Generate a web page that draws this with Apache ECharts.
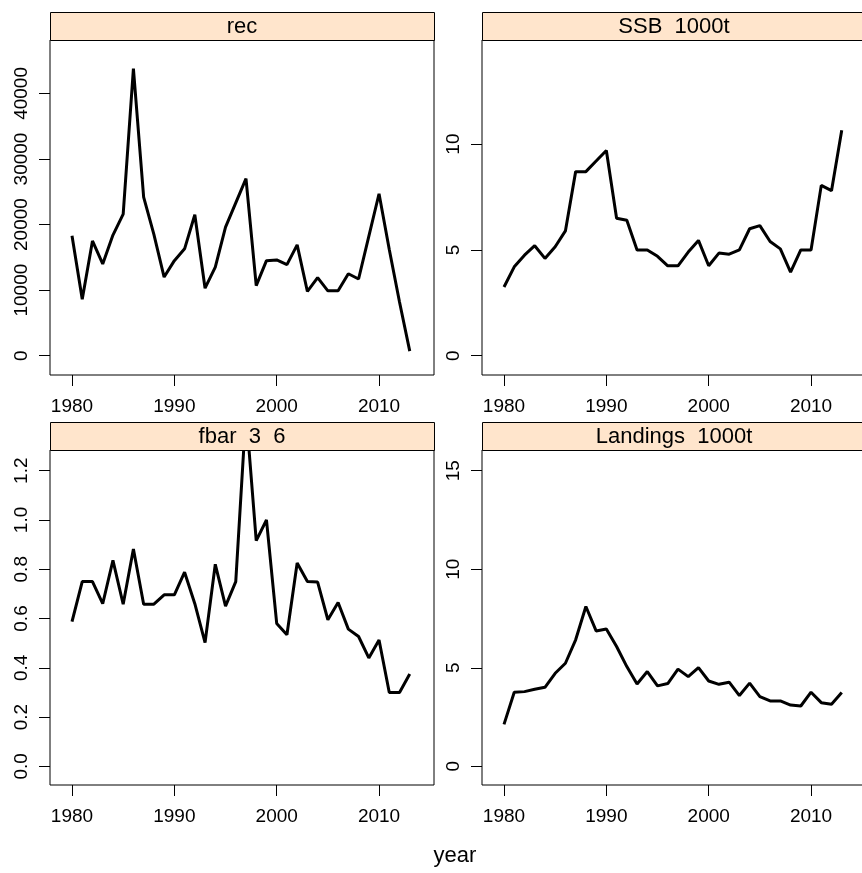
<!DOCTYPE html>
<html>
<head>
<meta charset="utf-8">
<style>
  html, body { margin: 0; padding: 0; background: #fff; }
  #chart { width: 862px; height: 873px; }
</style>
<script src="https://cdn.jsdelivr.net/npm/echarts@6/dist/echarts.min.js"></script>
</head>
<body>
<div id="chart"></div>
<script>
// ---- data ----
const years = [1980,1981,1982,1983,1984,1985,1986,1987,1988,1989,1990,1991,1992,1993,1994,1995,1996,1997,1998,1999,2000,2001,2002,2003,2004,2005,2006,2007,2008,2009,2010,2011,2012,2013];
const rec = [18300,8600,17500,14000,18400,21600,43800,24200,18500,12000,14500,16300,21500,10300,13500,19600,23300,27000,10700,14500,14600,13900,16900,9800,11900,9900,9900,12500,11700,18200,24700,16200,8200,700];
const ssb = [3.25,4.2,4.75,5.2,4.6,5.15,5.9,8.7,8.7,9.2,9.7,6.5,6.4,5.0,5.0,4.7,4.25,4.25,4.9,5.45,4.25,4.85,4.8,5.0,6.0,6.15,5.4,5.05,3.95,5.0,5.0,8.05,7.8,10.65];
const fbar = [0.587,0.75,0.75,0.66,0.836,0.658,0.882,0.658,0.658,0.696,0.696,0.788,0.66,0.502,0.82,0.65,0.75,1.44,0.916,1.0,0.58,0.534,0.825,0.75,0.748,0.595,0.665,0.557,0.527,0.44,0.513,0.30,0.30,0.375];
const landings = [2.13,3.76,3.79,3.91,4.01,4.72,5.23,6.42,8.11,6.87,6.97,6.08,5.06,4.18,4.81,4.08,4.2,4.93,4.55,5.01,4.33,4.16,4.27,3.59,4.22,3.54,3.32,3.32,3.11,3.06,3.76,3.23,3.15,3.74];

const panelTitles = ['rec', 'SSB  1000t', 'fbar  3  6', 'Landings  1000t'];
const xTicks = [1980, 1990, 2000, 2010];
const recTicks = [0, 10000, 20000, 30000, 40000];
const ssbTicks = [0, 5, 10];
const fbarTicks = [0, 0.2, 0.4, 0.6, 0.8, 1.0, 1.2];
const landTicks = [0, 5, 10, 15];
const xAxisTitle = 'year';

// ---- layout / style ----
const FONT = "'Liberation Sans', Arial, sans-serif";
const panels = [
  { left: 50,  top: 40,  values: rec,      ticks: recTicks,  ymin: -2940, ymax: 48150, fmt: v => String(v) },
  { left: 482, top: 40,  values: ssb,      ticks: ssbTicks,  ymin: -0.91, ymax: 14.92, fmt: v => String(v) },
  { left: 50,  top: 450, values: fbar,     ticks: fbarTicks, ymin: -0.0758, ymax: 1.284, fmt: v => v.toFixed(1) },
  { left: 482, top: 450, values: landings, ticks: landTicks, ymin: -0.948, ymax: 16.05, fmt: v => String(v) }
];
const PW = 384, PH = 335, STRIP = 28;

const grid = [], xAxis = [], yAxis = [], series = [], graphic = [];
panels.forEach((p, i) => {
  grid.push({
    left: p.left, top: p.top, width: PW, height: PH,
    show: true, borderColor: '#000', borderWidth: 1, backgroundColor: 'transparent',
    outerBoundsMode: 'none', containLabel: false
  });
  xAxis.push({
    type: 'value', gridIndex: i, min: 1977.85, max: 2015.37, position: 'bottom',
    splitLine: { show: false },
    axisLine: { show: false, onZero: false },
    axisTick: { show: true, inside: false, length: 11, lineStyle: { color: '#000', width: 1 }, customValues: xTicks },
    axisLabel: { show: true, fontSize: 19, color: '#000', fontFamily: FONT, margin: 22, customValues: xTicks,
      formatter: v => String(v) }
  });
  yAxis.push({
    type: 'value', gridIndex: i, min: p.ymin, max: p.ymax, position: 'left',
    splitLine: { show: false },
    axisLine: { show: false, onZero: false },
    axisTick: { show: true, inside: false, length: 11, lineStyle: { color: '#000', width: 1 }, customValues: p.ticks },
    axisLabel: { show: true, fontSize: 19, color: '#000', fontFamily: FONT, margin: 19, rotate: 90,
      customValues: p.ticks, formatter: p.fmt }
  });
  series.push({
    type: 'line', xAxisIndex: i, yAxisIndex: i,
    data: years.map((y, k) => [y, p.values[k]]),
    showSymbol: false, symbol: 'none', clip: true, silent: true,
    lineStyle: { color: '#000', width: 3 },
    animation: false
  });
  graphic.push({
    type: 'rect', z: 10,
    shape: { x: p.left + 0.5, y: p.top - STRIP + 0.5, width: PW, height: STRIP },
    style: { fill: '#ffe5cc', stroke: '#000', lineWidth: 1 }
  });
  graphic.push({
    type: 'text', z: 11,
    x: p.left + PW / 2, y: p.top - STRIP / 2 + 1,
    style: { text: panelTitles[i], font: '22px ' + FONT, fill: '#000', align: 'center', verticalAlign: 'middle' }
  });
});
graphic.push({
  type: 'text', z: 11, x: 455, y: 856,
  style: { text: xAxisTitle, font: '22px ' + FONT, fill: '#000', align: 'center', verticalAlign: 'middle' }
});

const chart = echarts.init(document.getElementById('chart'), null, { renderer: 'canvas' });
chart.setOption({
  animation: false,
  backgroundColor: '#fff',
  grid, xAxis, yAxis, series, graphic
});
</script>
</body>
</html>
